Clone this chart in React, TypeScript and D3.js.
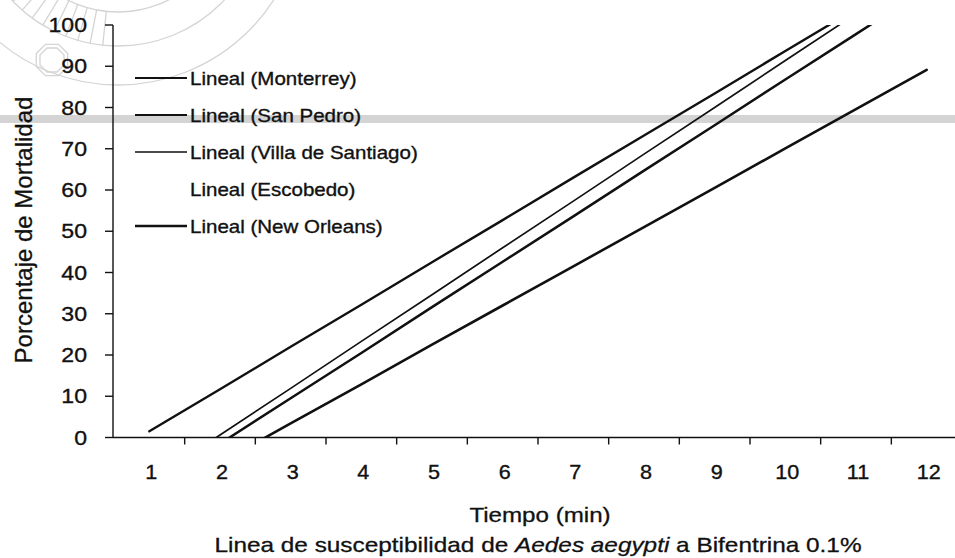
import React from "react";
import * as d3 from "d3";

// ---- data ----
const categories = ["1", "2", "3", "4", "5", "6", "7", "8", "9", "10", "11", "12"];
const yTickValues = [0, 10, 20, 30, 40, 50, 60, 70, 80, 90, 100];

// linear trend lines (value at each minute), clipped by the plot area like the original
const monterrey = [1.5, 11.7, 22.0, 32.2, 42.5, 52.7, 63.0, 73.2, 83.4, 93.7, 103.9, 114.2];
const villaDeSantiago = [-10.8, 0.6, 11.9, 23.3, 34.6, 46.0, 57.3, 68.7, 80.0, 91.4, 102.7, 114.1];
const sanPedro = [-12.6, -1.5, 9.5, 20.5, 31.6, 42.6, 53.6, 64.7, 75.7, 86.8, 97.8, 108.8];
const newOrleans = [-15.6, -6.1, 3.4, 12.9, 22.5, 32.0, 41.5, 51.0, 60.5, 70.1, 79.6, 89.1];

const legendLabels = [
  "Lineal (Monterrey)",
  "Lineal (San Pedro)",
  "Lineal (Villa de Santiago)",
  "Lineal (Escobedo)",
  "Lineal (New Orleans)",
];
const legendSampleWidths = [2.2, 2.2, 1.5, 0, 2.6];

const xTitle = "Tiempo (min)";
const yTitle = "Porcentaje de Mortalidad";

const series = [
  { name: "Monterrey", values: monterrey, width: 2.4 },
  { name: "Villa de Santiago", values: villaDeSantiago, width: 1.7 },
  { name: "San Pedro", values: sanPedro, width: 2.5 },
  { name: "New Orleans", values: newOrleans, width: 2.6 },
];

const W = 955;
const H = 558;
const FONT = "'Liberation Sans', Arial, Helvetica, sans-serif";
const INK = "#111";
const WM = "#d4d4d4";
const SX = 1.14; // horizontal stretch of the scanned text

const plot = { left: 114, right: 962, top: 25, bottom: 437.5 };

export default function App() {
  const x = d3
    .scaleBand<string>()
    .domain(categories)
    .range([plot.left, plot.right])
    .paddingInner(0)
    .paddingOuter(0);
  const bw = x.bandwidth();
  const xc = (c: string) => (x(c) as number) + bw / 2;
  const y = d3.scaleLinear().domain([0, 100]).range([plot.bottom, plot.top]);

  const line = d3
    .line<number>()
    .x((_, i) => xc(categories[i]))
    .y((v) => y(v));

  // faint seal of the scanned page (background decoration)
  const sealC = { x: 118, y: -100 };
  const rays = d3.range(96, 152, 5).map((deg) => {
    const a = (deg * Math.PI) / 180;
    return {
      x1: sealC.x + 112 * Math.cos(a),
      y1: sealC.y + 112 * Math.sin(a),
      x2: sealC.x + 146 * Math.cos(a),
      y2: sealC.y + 146 * Math.sin(a),
    };
  });
  const octagon = (cx: number, cy: number, r: number) =>
    d3
      .range(8)
      .map((i) => {
        const a = Math.PI / 8 + (i * Math.PI) / 4;
        return [cx + r * Math.cos(a), cy + r * Math.sin(a)].join(",");
      })
      .join(" ");

  const boundaries = categories.map((c) => x(c) as number).slice(1);

  return (
    <svg
      width={W}
      height={H}
      viewBox={`0 0 ${W} ${H}`}
      style={{ position: "fixed", left: 0, top: 0, background: "#fff" }}
    >
      <defs>
        <clipPath id="plotClip">
          <rect x={plot.left} y={plot.top} width={plot.right - plot.left} height={plot.bottom - plot.top} />
        </clipPath>
      </defs>
      <rect x={0} y={0} width={W} height={H} fill="#fff" />

      {/* background marks of the scanned page */}
      <rect x={0} y={115} width={W} height={8} fill={WM} />
      <g fill="none" stroke={WM} strokeWidth={1.3}>
        <circle cx={sealC.x} cy={sealC.y} r={112} />
        <circle cx={sealC.x} cy={sealC.y} r={146} />
        <circle cx={sealC.x} cy={sealC.y} r={185} />
        {rays.map((r, i) => (
          <line key={i} x1={r.x1} y1={r.y1} x2={r.x2} y2={r.y2} />
        ))}
        <polygon points={octagon(52, 60, 17)} />
        <polygon points={octagon(52, 60, 13)} />
      </g>

      {/* axes */}
      <g stroke={INK} strokeWidth={1.4}>
        <line x1={plot.left - 1} y1={plot.top} x2={plot.left - 1} y2={plot.bottom} />
        <line x1={plot.left - 1} y1={plot.bottom} x2={W} y2={plot.bottom} />
        {yTickValues.map((t) => (
          <line key={t} x1={plot.left - 9} x2={plot.left - 1} y1={y(t)} y2={y(t)} />
        ))}
        {boundaries.map((b, i) => (
          <line key={i} x1={b} x2={b} y1={plot.bottom} y2={plot.bottom + 7} />
        ))}
      </g>

      {/* y tick labels */}
      <g fill={INK} stroke={INK} strokeWidth={0.35} fontFamily={FONT} fontSize={21}>
        {yTickValues.map((t) => (
          <g key={t} transform={`translate(87,${y(t) + 7}) scale(1.1,1)`}>
            <text textAnchor="end">{t}</text>
          </g>
        ))}
      </g>

      {/* x tick labels */}
      <g fill={INK} stroke={INK} strokeWidth={0.35} fontFamily={FONT} fontSize={20}>
        {categories.map((c) => (
          <g key={c} transform={`translate(${xc(c) + 2},${479}) scale(1.08,1)`}>
            <text textAnchor="middle">{c}</text>
          </g>
        ))}
      </g>

      {/* trend lines */}
      <g clipPath="url(#plotClip)" fill="none" stroke={INK} strokeLinecap="round">
        {series.map((s) => (
          <path key={s.name} d={line(s.values) || ""} strokeWidth={s.width} />
        ))}
      </g>

      {/* legend */}
      <g fontFamily={FONT} fontSize={18} fill={INK}>
        {legendLabels.map((lab, i) => {
          const by = 85 + i * 37;
          return (
            <g key={lab}>
              {legendSampleWidths[i] > 0 && (
                <line x1={135} x2={187} y1={by - 7} y2={by - 7} stroke={INK} strokeWidth={legendSampleWidths[i]} />
              )}
              <g transform={`translate(190,${by}) scale(${SX},1)`}>
                <text stroke={INK} strokeWidth={0.35}>{lab}</text>
              </g>
            </g>
          );
        })}
      </g>

      {/* axis titles */}
      <g fill={INK} stroke={INK} strokeWidth={0.3} fontFamily={FONT}>
        <g transform={`translate(540,522) scale(1.15,1)`}>
          <text textAnchor="middle" fontSize={21}>{xTitle}</text>
        </g>
        <g transform={`translate(538,552) scale(1.16,1)`}>
          <text textAnchor="middle" fontSize={21}>
            Linea de susceptibilidad de <tspan fontStyle="italic">Aedes aegypti</tspan>{"  "}a Bifentrina 0.1%
          </text>
        </g>
        <text transform="translate(32,230) rotate(-90)" textAnchor="middle" fontSize={24}>
          {yTitle}
        </text>
      </g>
    </svg>
  );
}
